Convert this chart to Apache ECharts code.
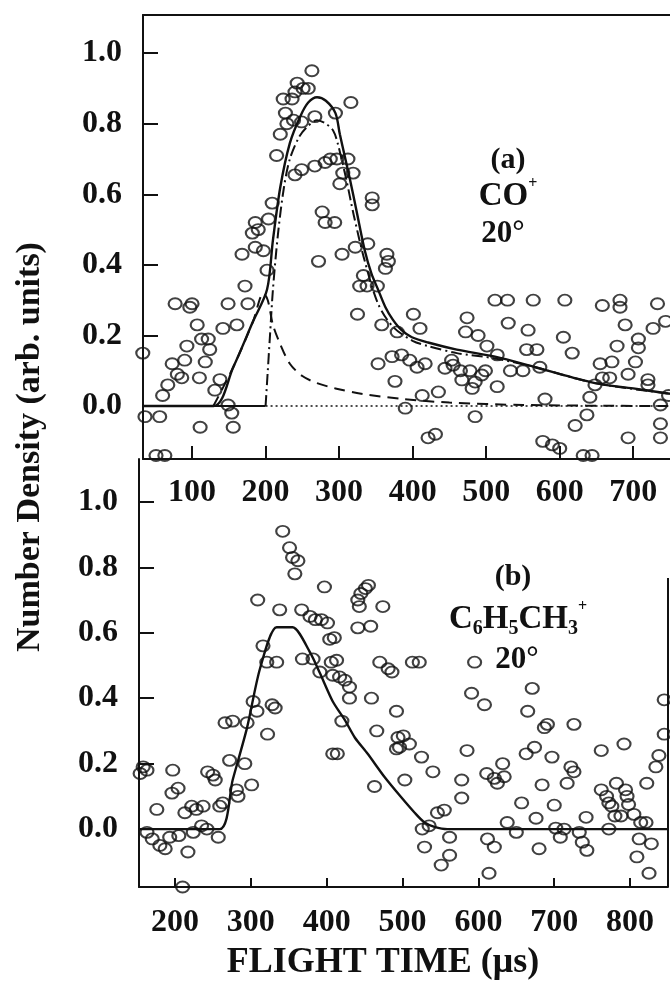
<!DOCTYPE html>
<html><head><meta charset="utf-8">
<script src="https://cdn.jsdelivr.net/npm/echarts@6/dist/echarts.min.js"></script>
<style>html,body{margin:0;padding:0;background:#fff}#c{width:670px;height:1005px}</style>
</head><body><div id="c"></div>
<script>
// ---------- data ----------
const ticksAx = [100, 200, 300, 400, 500, 600, 700];
const ticksAy = [0, 0.2, 0.4, 0.6, 0.8, 1.0];
const ticksBx = [200, 300, 400, 500, 600, 700, 800];
const ticksBy = [0, 0.2, 0.4, 0.6, 0.8, 1.0];

// panel (a) CO+ data points [flight time, density]
const pointsA = [
[33,0.15],[36,-0.03],[56,-0.03],[51,-0.14],[63,-0.14],[60,0.03],[67,0.06],[73,0.12],[77,0.29],[80,0.09],
[86,0.08],[90,0.13],[93,0.17],[97,0.28],[100,0.29],[107,0.23],[110,0.08],[113,0.19],[118,0.125],[122,0.19],
[124,0.16],[111,-0.06],[131,0.045],[138,0.075],[142,0.22],[149,0.29],[149,0.003],[154,-0.02],[156,-0.06],[161,0.23],
[168,0.43],[172,0.34],[176,0.29],[182,0.49],[186,0.52],[190,0.50],[186,0.45],[197,0.44],[202,0.385],[204,0.53],
[209,0.575],[215,0.71],[220,0.77],[224,0.87],[227,0.83],[229,0.80],[236,0.87],[240,0.89],[243,0.915],[238,0.81],
[249,0.805],[251,0.90],[258,0.90],[263,0.95],[267,0.82],[240,0.655],[249,0.67],[267,0.68],[281,0.69],[288,0.70],
[277,0.55],[281,0.52],[272,0.41],[295,0.83],[316,0.86],[297,0.70],[301,0.63],[312,0.70],[305,0.66],[319,0.66],
[294,0.52],[304,0.43],[322,0.45],[339,0.46],[345,0.57],[345,0.59],[365,0.43],[367,0.41],[363,0.39],[333,0.37],
[328,0.34],[338,0.34],[352,0.34],[325,0.26],[358,0.23],[379,0.21],[410,0.22],[401,0.26],[353,0.12],[372,0.14],
[385,0.145],[396,0.13],[406,0.11],[417,0.12],[376,0.07],[413,0.03],[435,0.04],[390,-0.006],[421,-0.09],[431,-0.08],
[444,0.107],[453,0.13],[455,0.116],[465,0.10],[467,0.074],[478,0.10],[481,0.05],[485,0.068],[494,0.088],[499,0.10],
[474,0.25],[472,0.21],[489,0.20],[501,0.17],[485,-0.03],[512,0.30],[529,0.30],[564,0.30],[607,0.30],[530,0.235],
[557,0.215],[515,0.145],[515,0.055],[533,0.10],[550,0.10],[555,0.16],[569,0.16],[573,0.11],[580,0.02],[605,0.195],
[617,0.15],[621,-0.055],[637,-0.025],[577,-0.10],[590,-0.11],[600,-0.12],[632,-0.14],[644,-0.14],[641,0.025],[648,0.06],
[658,0.285],[682,0.30],[682,0.28],[689,0.23],[655,0.12],[671,0.125],[678,0.17],[658,0.08],[668,0.08],[693,0.09],
[703,0.125],[707,0.165],[707,0.19],[720,0.06],[720,0.075],[733,0.29],[727,0.22],[744,0.24],[693,-0.09],[737,-0.09],
[737,-0.05],[737,0.003],[748,0.03]
];
// panel (a) fits
const fitTotalA = [[33,0],[129,0],[156,0.11],[183,0.24],[202,0.33],[210,0.47],[220,0.62],[233,0.745],[247,0.82],[258,0.86],
[270,0.875],[282,0.865],[295,0.83],[301,0.77],[308,0.705],[315,0.64],[324,0.55],[335,0.44],[344,0.375],[353,0.33],
[363,0.28],[373,0.245],[385,0.215],[399,0.195],[421,0.18],[460,0.16],[512,0.14],[567,0.11],[648,0.065],[700,0.05],[750,0.035]];
const fitFastA = [[129,0],[156,0.11],[183,0.24],[197,0.32],[203,0.30],[210,0.23],[220,0.175],[233,0.12],[250,0.085],[270,0.065],
[295,0.05],[330,0.035],[386,0.02],[450,0.01],[550,0.003],[750,0]];
const fitSlowA = [[200,0],[203,0.1],[206,0.2],[210,0.33],[217,0.49],[225,0.62],[233,0.70],[245,0.76],[256,0.79],[270,0.81],
[282,0.80],[292,0.78],[298,0.745],[310,0.64],[320,0.54],[335,0.41],[353,0.29],[373,0.225],[400,0.185],[421,0.17],
[460,0.15],[512,0.135],[567,0.11],[648,0.065],[750,0.035]];
const baseSolidA = [[33,0],[200,0]];
const baseDotA = [[200,0],[750,0]];

// panel (b) C6H5CH3+ data points
const pointsB = [
[154,0.17],[158,0.19],[163,0.18],[163,-0.01],[170,-0.03],[180,-0.05],[187,-0.06],[176,0.06],[193,-0.025],[205,-0.02],
[217,-0.07],[197,0.18],[196,0.11],[204,0.125],[210,-0.177],[213,0.05],[222,0.07],[228,0.06],[237,0.07],[224,-0.01],
[235,0.01],[242,0.0],[243,0.175],[253,0.15],[250,0.165],[257,-0.025],[259,0.07],[263,0.08],[266,0.325],[276,0.33],
[272,0.21],[281,0.12],[283,0.10],[292,0.2],[295,0.325],[301,0.135],[303,0.39],[308,0.36],[309,0.70],[316,0.56],
[321,0.51],[334,0.51],[322,0.29],[328,0.38],[332,0.37],[338,0.67],[342,0.91],[351,0.86],[355,0.83],[362,0.82],
[358,0.78],[367,0.67],[368,0.52],[382,0.52],[391,0.48],[378,0.65],[385,0.64],[393,0.64],[401,0.63],[397,0.74],
[404,0.58],[406,0.51],[408,0.47],[408,0.23],[410,0.585],[413,0.516],[417,0.465],[424,0.455],[430,0.434],[430,0.40],
[420,0.33],[414,0.23],[441,0.70],[445,0.72],[451,0.735],[455,0.745],[443,0.68],[441,0.615],[458,0.62],[474,0.68],
[470,0.51],[481,0.49],[486,0.48],[513,0.51],[522,0.51],[459,0.40],[492,0.36],[466,0.30],[492,0.245],[494,0.28],
[501,0.285],[509,0.26],[496,0.25],[503,0.15],[525,0.22],[540,0.175],[463,0.13],[526,0.0],[535,0.01],[529,-0.055],
[551,-0.11],[562,-0.08],[546,0.05],[555,0.058],[562,-0.025],[578,0.095],[578,0.15],[585,0.24],[591,0.415],[595,0.51],
[608,0.38],[611,0.17],[621,0.155],[625,0.14],[634,0.16],[632,0.20],[612,-0.03],[621,-0.055],[614,-0.135],[638,0.02],
[650,-0.01],[657,0.08],[663,0.23],[665,0.36],[671,0.43],[674,0.25],[676,0.033],[680,-0.06],[684,0.135],[687,0.31],
[691,0.32],[697,0.22],[700,0.073],[702,0.003],[713,0.0],[708,-0.025],[717,0.14],[722,0.19],[726,0.175],[726,0.32],
[733,-0.01],[737,-0.04],[743,-0.065],[742,0.036],[762,0.24],[762,0.12],[769,0.10],[772,0.08],[776,0.07],[772,0.0],
[782,0.14],[780,0.04],[788,0.04],[794,0.12],[796,0.10],[798,0.075],[805,0.045],[792,0.26],[814,0.02],[821,0.02],
[812,-0.03],[828,-0.045],[809,-0.085],[825,-0.135],[822,0.14],[834,0.19],[838,0.225],[845,0.395],[845,0.29]
];
const fitB = [[152.5,0],[259,0],[276,0.15],[295,0.31],[312,0.49],[334,0.617],[355,0.617],[378,0.54],[391,0.477],[408,0.39],
[424,0.333],[437,0.28],[454,0.23],[476,0.16],[498,0.098],[516,0.05],[529,0.02],[542,0.007],[559,0],[850,0]];

// ---------- chart ----------
const FONT = 'Liberation Serif';
const INK = '#111';
const chart = echarts.init(document.getElementById('c'), null, {renderer: 'canvas'});

function yAxisCfg(grid, min, max, ticks) {
  return {
    type: 'value', gridIndex: grid, min: min, max: max,
    splitLine: {show: false},
    axisLine: {show: true, onZero: false, lineStyle: {color: INK, width: 2}},
    axisTick: {show: true, inside: true, length: 15, customValues: ticks, lineStyle: {color: INK, width: 2}},
    axisLabel: {show: true, customValues: ticks, margin: 21, color: INK,
      fontFamily: FONT, fontWeight: 'bold', fontSize: 32, formatter: v => v.toFixed(1)}
  };
}
function xAxisCfg(grid, min, max, ticks, tickLen, margin) {
  return {
    type: 'value', gridIndex: grid, min: min, max: max, position: 'bottom',
    splitLine: {show: false},
    axisLine: {show: true, onZero: false, lineStyle: {color: INK, width: 2}},
    axisTick: {show: true, inside: true, length: tickLen, customValues: ticks, lineStyle: {color: INK, width: 2}},
    axisLabel: {show: true, customValues: ticks, margin: margin, color: INK,
      fontFamily: FONT, fontWeight: 'bold', fontSize: 32}
  };
}
const circleStyle = {color: 'rgba(255,255,255,0)', borderColor: INK, borderWidth: 2};

chart.setOption({
  backgroundColor: '#fff',
  animation: false,
  grid: [
    {left: 143, top: 15, width: 527, height: 444},
    {left: 139, top: 459, width: 529, height: 428}
  ],
  xAxis: [
    xAxisCfg(0, 33.3, 750, ticksAx, 13, 18),
    xAxisCfg(1, 152.5, 850, ticksBx, 9, 20),
    {type: 'value', gridIndex: 0, min: 33.3, max: 750, position: 'top',
     axisLine: {show: true, onZero: false, lineStyle: {color: INK, width: 2}},
     axisTick: {show: false}, axisLabel: {show: false}, splitLine: {show: false}}
  ],
  yAxis: [
    yAxisCfg(0, -0.15, 1.108, ticksAy),
    yAxisCfg(1, -0.177, 1.131, ticksBy)
  ],
  series: [
    {type: 'line', xAxisIndex: 0, yAxisIndex: 0, data: baseSolidA, symbol: 'none',
     lineStyle: {color: INK, width: 2}},
    {type: 'line', xAxisIndex: 0, yAxisIndex: 0, data: baseDotA, symbol: 'none',
     lineStyle: {color: INK, width: 1.5, type: [2, 3]}},
    {type: 'line', xAxisIndex: 0, yAxisIndex: 0, data: fitFastA, symbol: 'none', smooth: 0.3,
     lineStyle: {color: INK, width: 2, type: [11, 7]}},
    {type: 'line', xAxisIndex: 0, yAxisIndex: 0, data: fitSlowA, symbol: 'none', smooth: 0.3,
     lineStyle: {color: INK, width: 2, type: [11, 4, 2, 4]}},
    {type: 'line', xAxisIndex: 0, yAxisIndex: 0, data: fitTotalA, symbol: 'none', smooth: 0.3,
     lineStyle: {color: INK, width: 2.4}},
    {type: 'scatter', xAxisIndex: 0, yAxisIndex: 0, data: pointsA, symbol: 'circle', symbolSize: [13, 11],
     clip: false, itemStyle: circleStyle},
    {type: 'line', xAxisIndex: 1, yAxisIndex: 1, data: fitB, symbol: 'none', smooth: 0.25,
     lineStyle: {color: INK, width: 2.4}},
    {type: 'scatter', xAxisIndex: 1, yAxisIndex: 1, data: pointsB, symbol: 'circle', symbolSize: [13, 11],
     clip: false, itemStyle: circleStyle}
  ],
  graphic: [
    {type: 'line', shape: {x1: 668, y1: 578, x2: 668, y2: 887}, style: {stroke: INK, lineWidth: 2}},
    {type: 'text', x: 30, y: 447, rotation: Math.PI / 2,
     style: {text: 'Number Density (arb. units)', fill: INK, font: 'bold 34px "Liberation Serif"', align: 'center', verticalAlign: 'middle'}},
    {type: 'text', x: 383, y: 963,
     style: {text: 'FLIGHT TIME (\u03bcs)', fill: INK, font: 'bold 36px "Liberation Serif"', align: 'center', verticalAlign: 'middle'}},
    {type: 'text', x: 508, y: 160,
     style: {text: '(a)', fill: INK, font: 'bold 30px "Liberation Serif"', align: 'center', verticalAlign: 'middle'}},
    {type: 'text', x: 508, y: 196,
     style: {text: '{m|CO}{p|+}', align: 'center', verticalAlign: 'middle',
       rich: {m: {fill: INK, fontFamily: FONT, fontWeight: 'bold', fontSize: 33, lineHeight: 40},
              p: {fill: INK, fontFamily: FONT, fontWeight: 'bold', fontSize: 16, lineHeight: 18, verticalAlign: 'top'}}}},
    {type: 'text', x: 503, y: 234,
     style: {text: '20\u00b0', fill: INK, font: 'bold 31px "Liberation Serif"', align: 'center', verticalAlign: 'middle'}},
    {type: 'text', x: 513, y: 577,
     style: {text: '(b)', fill: INK, font: 'bold 30px "Liberation Serif"', align: 'center', verticalAlign: 'middle'}},
    {type: 'text', x: 518, y: 619,
     style: {text: '{m|C}{s|6}{m|H}{s|5}{m|CH}{s|3}{p|+}', align: 'center', verticalAlign: 'middle',
       rich: {m: {fill: INK, fontFamily: FONT, fontWeight: 'bold', fontSize: 33, lineHeight: 40},
              s: {fill: INK, fontFamily: FONT, fontWeight: 'bold', fontSize: 20, lineHeight: 16, verticalAlign: 'bottom'},
              p: {fill: INK, fontFamily: FONT, fontWeight: 'bold', fontSize: 16, lineHeight: 18, verticalAlign: 'top'}}}},
    {type: 'text', x: 517, y: 660,
     style: {text: '20\u00b0', fill: INK, font: 'bold 31px "Liberation Serif"', align: 'center', verticalAlign: 'middle'}}
  ]
});
</script></body></html>
